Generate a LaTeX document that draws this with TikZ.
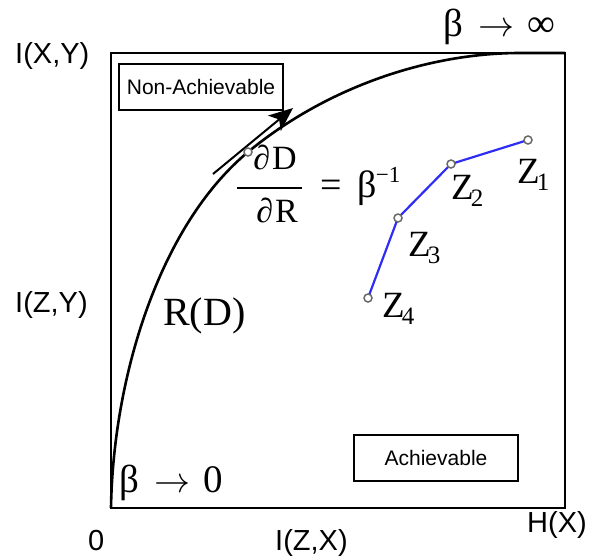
\RequirePackage{fix-cm}
\documentclass[tikz,border=0pt]{standalone}
\usepackage{fontspec}
\setmainfont{Liberation Serif}
\setsansfont{Liberation Sans}
\usetikzlibrary{arrows.meta}
\definecolor{zblue}{RGB}{45,45,245}
\definecolor{ptgray}{RGB}{105,105,105}
\newcommand{\zlab}[1]{Z\kern-3pt\raisebox{-7pt}{\fontsize{25}{27}\selectfont #1}}
\newcommand{\longarr}{\kern15pt{\fontsize{36}{38}\selectfont$\rightarrow$}\kern13pt}
\begin{document}
\begin{tikzpicture}[x=1pt,y=-1pt,
  frame/.style={line width=2.6pt},
  axlbl/.style={font=\sffamily\fontsize{29}{32}\selectfont, inner sep=0pt, anchor=base west},
  serlbl/.style={font=\fontsize{39}{42}\selectfont, inner sep=0pt, anchor=base west},
  fraclbl/.style={font=\fontsize{34}{36}\selectfont, inner sep=0pt, anchor=base},
  zlbl/.style={font=\fontsize{37}{40}\selectfont, inner sep=0pt, anchor=base west},
  regbox/.style={draw, line width=1.8pt, font=\sffamily\fontsize{21}{24}\selectfont, minimum width=164pt, minimum height=46pt, inner sep=0pt},
  zpt/.style={circle, draw=ptgray, fill=white, line width=1.5pt, minimum size=8pt, inner sep=0pt},
  zlink/.style={draw=zblue, line width=2.2pt}]
\useasboundingbox (0,0) rectangle (589,557);
% frame
\coordinate (bl) at (111,508);
\coordinate (tr) at (565,53);
\draw[frame] (bl) rectangle (tr);
% rate-distortion curve
\coordinate (c0) at (111,508);
\coordinate (c1) at (248,152);
\coordinate (c2) at (520,53);
\coordinate (c3) at (565,53);
\draw[line width=2.6pt, line join=round]
  (c0) .. controls (113,380) and (158,227) .. (c1)
       .. controls (328,86) and (430,53) .. (c2) -- (c3);
% tangent arrow
\coordinate (tstart) at (213,174);
\coordinate (ttip) at (293,108);
\draw[line width=2pt, -{Stealth[length=24pt,width=20pt,inset=6pt]}] (tstart) -- (ttip);
\node[zpt] (tp) at (248,152) {};
% region boxes
\node[regbox] (nonach) at (201,87) {Non-Achievable};
\node[regbox] (ach) at (436,458) {Achievable};
% axis labels
\node[axlbl] (ixy) at (15,63) {I(X,Y)};
\node[axlbl] (izy) at (15,312) {I(Z,Y)};
\node[axlbl] (zero) at (88,550) {0};
\node[axlbl] (izx) at (275,550) {I(Z,X)};
\node[axlbl] (hx) at (527,532) {H(X)};
% serif labels
\node[serlbl] (binf) at (443,36) {β\longarr ∞};
\node[serlbl] (bzero) at (119,492) {β\longarr 0};
\node[serlbl, font=\fontsize{40}{42}\selectfont] (rd) at (163,325) {R(D)};
% derivative
\node[fraclbl] (num) at (275,169) {∂\kern2pt D};
\node[fraclbl] (den) at (277,222) {∂\kern2pt R};
\coordinate (barl) at (237,188);
\coordinate (barr) at (302,188);
\draw[line width=2.6pt] (barl) -- (barr);
\node[font=\fontsize{38}{40}\selectfont, inner sep=0pt, anchor=base west] (eqb) at (320,197) {=\kern16pt β\kern-1pt\raisebox{15pt}{\fontsize{23}{25}\selectfont −1}};
% Z points
\draw[zlink] (528,140) -- (451,164) -- (398,218) -- (368,298);
\node[zpt] (z1) at (528,140) {};
\node[zpt] (z2) at (451,164) {};
\node[zpt] (z3) at (398,218) {};
\node[zpt] (z4) at (368,298) {};
\node[zlbl] (z1l) at (517,183) {\zlab{1}};
\node[zlbl] (z2l) at (451,199) {\zlab{2}};
\node[zlbl] (z3l) at (408,256) {\zlab{3}};
\node[zlbl] (z4l) at (382,317) {\zlab{4}};
\end{tikzpicture}
\end{document}
